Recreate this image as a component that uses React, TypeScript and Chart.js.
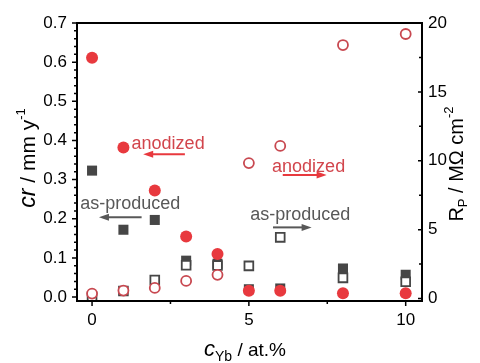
import { useEffect, useRef } from "react";
import { Chart, registerables } from "chart.js";

Chart.register(...registerables);

// ---- data ----
const cYb = [0, 1, 2, 3, 4, 5, 6, 8, 10];
const crAnodized = [0.611, 0.382, 0.272, 0.155, 0.11, 0.016, 0.016, 0.01, 0.01];
const crAsProduced = [0.323, 0.172, 0.197, 0.093, 0.085, 0.02, 0.022, 0.073, 0.057];
const rpAnodized = [0.36, 0.58, 0.77, 1.28, 1.72, 9.83, 11.08, 18.4, 19.2];
const rpAsProduced = [0.12, 0.55, 1.35, 2.42, 2.4, 2.37, 4.44, 1.5, 1.22];

const xTickValues = [0, 5, 10];
const xMinorValues = [2.5, 7.5];
const leftTickValues = [0, 0.1, 0.2, 0.3, 0.4, 0.5, 0.6, 0.7];
const rightTickValues = [0, 5, 10, 15, 20];
const rightMinorValues = [2.5, 7.5, 12.5, 17.5];

// annotations: [text, x, yLeft, arrowFromX, arrowToX, arrowY, color]
const annotations: [string, number, number, number, number, number, string][] = [
  ["anodized", 1.26, 0.391, 2.96, 1.63, 0.365, "red"],
  ["anodized", 5.74, 0.331, 6.08, 7.48, 0.312, "red"],
  ["as-produced", -0.38, 0.2375, 1.58, 0.22, 0.204, "gray"],
  ["as-produced", 5.04, 0.209, 5.77, 7.0, 0.178, "gray"],
];

const FONT = "'Liberation Sans', Arial, sans-serif";
const RED_FILL = "#e8393e";
const RED_OPEN = "#c84850";
const RED_TEXT = "#d2454c";
const DARK = "#464646";
const GRAY_TEXT = "#585858";

type Seg = { t: string; size: number; italic?: boolean; dy?: number };

function drawRich(ctx: CanvasRenderingContext2D, segs: Seg[], cx: number, cy: number, rot: number) {
  ctx.save();
  ctx.translate(cx, cy);
  ctx.rotate(rot);
  ctx.fillStyle = "#000";
  ctx.textBaseline = "alphabetic";
  ctx.textAlign = "left";
  let total = 0;
  const widths: number[] = [];
  for (const s of segs) {
    ctx.font = `${s.italic ? "italic " : ""}${s.size}px ${FONT}`;
    const w = ctx.measureText(s.t).width;
    widths.push(w);
    total += w;
  }
  let x = -total / 2;
  segs.forEach((s, i) => {
    ctx.font = `${s.italic ? "italic " : ""}${s.size}px ${FONT}`;
    ctx.fillText(s.t, x, 7 + (s.dy || 0));
    x += widths[i];
  });
  ctx.restore();
}

const decorPlugin = {
  id: "decor",
  afterDraw(chart: any) {
    const ctx: CanvasRenderingContext2D = chart.ctx;
    const { left, right, top, bottom } = chart.chartArea;
    const xs = chart.scales.x;
    const yl = chart.scales.y;
    const yr = chart.scales.y1;
    ctx.save();
    ctx.strokeStyle = "#000";
    ctx.lineWidth = 2;
    ctx.strokeRect(left, top, right - left, bottom - top);
    ctx.lineWidth = 1.5;
    ctx.beginPath();
    for (const v of xTickValues) {
      const p = xs.getPixelForValue(v);
      ctx.moveTo(p, bottom);
      ctx.lineTo(p, bottom + 5);
    }
    for (const v of xMinorValues) {
      const p = xs.getPixelForValue(v);
      ctx.moveTo(p, bottom);
      ctx.lineTo(p, bottom + 3);
    }
    for (const v of leftTickValues) {
      const p = yl.getPixelForValue(v);
      ctx.moveTo(left, p);
      ctx.lineTo(left - 5, p);
    }
    for (let k = 1; k < 35; k++) {
      if (k % 5 === 0) continue;
      const p = yl.getPixelForValue(k * 0.02);
      ctx.moveTo(left, p);
      ctx.lineTo(left - 3, p);
    }
    for (const v of rightTickValues) {
      const p = yr.getPixelForValue(v);
      ctx.moveTo(right - 4, p);
      ctx.lineTo(right + 1, p);
    }
    for (const v of rightMinorValues) {
      const p = yr.getPixelForValue(v);
      ctx.moveTo(right - 3, p);
      ctx.lineTo(right, p);
    }
    ctx.stroke();

    // annotations
    for (const [text, ax, ay, fx, tx, arY, col] of annotations) {
      const color = col === "red" ? RED_TEXT : GRAY_TEXT;
      const arrowColor = col === "red" ? RED_FILL : GRAY_TEXT;
      ctx.font = `18px ${FONT}`;
      ctx.fillStyle = color;
      ctx.textBaseline = "middle";
      ctx.textAlign = "left";
      ctx.fillText(text, xs.getPixelForValue(ax), yl.getPixelForValue(ay));
      const x1 = xs.getPixelForValue(fx);
      const x2 = xs.getPixelForValue(tx);
      const py = yl.getPixelForValue(arY);
      const dir = x2 > x1 ? 1 : -1;
      ctx.strokeStyle = arrowColor;
      ctx.fillStyle = arrowColor;
      ctx.lineWidth = 2;
      ctx.beginPath();
      ctx.moveTo(x1, py);
      ctx.lineTo(x2 - dir * 7, py);
      ctx.stroke();
      ctx.beginPath();
      ctx.moveTo(x2, py);
      ctx.lineTo(x2 - dir * 10, py - 3.5);
      ctx.lineTo(x2 - dir * 10, py + 3.5);
      ctx.closePath();
      ctx.fill();
    }
    ctx.restore();

    // axis titles
    drawRich(
      ctx,
      [
        { t: "cr", size: 23, italic: true },
        { t: " / mm y", size: 21 },
        { t: "-1", size: 13, dy: -10 },
      ],
      28,
      158,
      -Math.PI / 2
    );
    drawRich(
      ctx,
      [
        { t: "R", size: 20 },
        { t: "P", size: 13, dy: 4 },
        { t: " / M\u03A9 cm", size: 20 },
        { t: "-2", size: 13, dy: -10 },
      ],
      456,
      164,
      -Math.PI / 2
    );
    drawRich(
      ctx,
      [
        { t: "c", size: 22, italic: true },
        { t: "Yb", size: 14, dy: 5 },
        { t: " / at.%", size: 19 },
      ],
      245,
      349,
      0
    );
  },
};

export default function App() {
  const ref = useRef<HTMLCanvasElement | null>(null);
  useEffect(() => {
    const pts = (ys: number[]) => cYb.map((x, i) => ({ x, y: ys[i] }));
    const tickFont = { family: FONT, size: 17 };
    const chart = new Chart(ref.current as HTMLCanvasElement, {
      type: "scatter",
      data: {
        datasets: [
          {
            label: "Rp anodized",
            data: pts(rpAnodized),
            yAxisID: "y1",
            pointStyle: "circle",
            pointRadius: 5,
            borderColor: RED_OPEN,
            backgroundColor: "#ffffff",
            borderWidth: 1.8,
          },
          {
            label: "Rp as-produced",
            data: pts(rpAsProduced),
            yAxisID: "y1",
            pointStyle: "rect",
            pointRadius: 6.2,
            borderColor: DARK,
            backgroundColor: "#ffffff",
            borderWidth: 1.8,
          },
          {
            label: "cr anodized",
            data: pts(crAnodized),
            yAxisID: "y",
            pointStyle: "circle",
            pointRadius: 6,
            borderColor: RED_FILL,
            backgroundColor: RED_FILL,
            borderWidth: 0,
          },
          {
            label: "cr as-produced",
            data: pts(crAsProduced),
            yAxisID: "y",
            pointStyle: "rect",
            pointRadius: 7.1,
            borderColor: DARK,
            backgroundColor: DARK,
            borderWidth: 0,
          },
        ],
      },
      options: {
        responsive: false,
        animation: false,
        layout: { padding: { top: 23, left: 0, right: 0, bottom: 0 } },
        plugins: { legend: { display: false }, tooltip: { enabled: false } },
        scales: {
          x: {
            type: "linear",
            min: -0.48,
            max: 10.52,
            grid: { display: false, drawTicks: false },
            border: { display: false },
            afterFit: (s: any) => {
              s.height = 62;
            },
            afterBuildTicks: (s: any) => {
              s.ticks = xTickValues.map((v) => ({ value: v }));
            },
            ticks: {
              color: "#000",
              font: tickFont,
              padding: 9,
              maxRotation: 0,
              autoSkip: false,
              callback: (v: any) => String(v),
            },
          },
          y: {
            type: "linear",
            position: "left",
            min: -0.01,
            max: 0.7,
            grid: { display: false, drawTicks: false },
            border: { display: false },
            afterFit: (s: any) => {
              s.width = 77;
            },
            afterBuildTicks: (s: any) => {
              s.ticks = leftTickValues.map((v) => ({ value: v }));
            },
            ticks: {
              color: "#000",
              font: tickFont,
              padding: 10,
              autoSkip: false,
              callback: (v: any) => Number(v).toFixed(1),
            },
          },
          y1: {
            type: "linear",
            position: "right",
            min: -0.18,
            max: 20,
            grid: { display: false, drawTicks: false },
            border: { display: false },
            afterFit: (s: any) => {
              s.width = 58;
            },
            afterBuildTicks: (s: any) => {
              s.ticks = rightTickValues.map((v) => ({ value: v }));
            },
            ticks: {
              color: "#000",
              font: tickFont,
              padding: 6,
              autoSkip: false,
              callback: (v: any) => String(v),
            },
          },
        },
      },
      plugins: [decorPlugin],
    } as any);
    return () => chart.destroy();
  }, []);
  return (
    <div style={{ position: "fixed", left: 0, top: 0, width: 480, height: 363, background: "#fff" }}>
      <canvas ref={ref} width={480} height={363} style={{ display: "block" }} />
    </div>
  );
}
